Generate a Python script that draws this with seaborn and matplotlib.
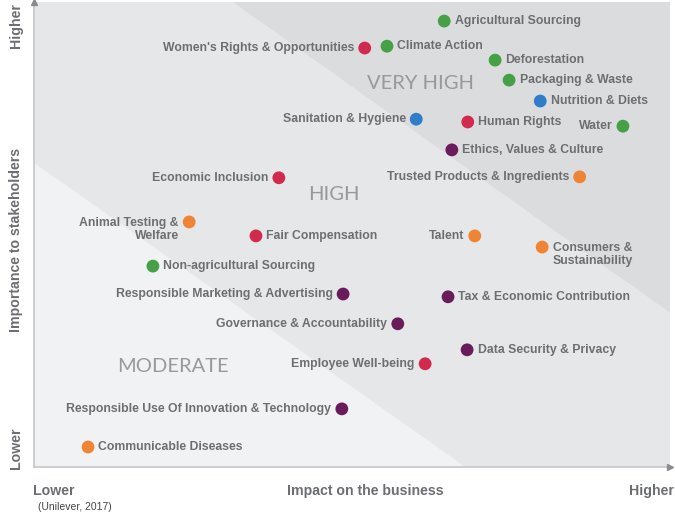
import matplotlib
matplotlib.use("Agg")
import matplotlib.pyplot as plt
import seaborn as sns
import pandas as pd

# ---- data (impact on business: 0-10, importance to stakeholders: 0-10) ----
topics = [
    "Agricultural Sourcing", "Women's Rights & Opportunities", "Climate Action",
    "Deforestation", "Packaging & Waste", "Nutrition & Diets",
    "Sanitation & Hygiene", "Human Rights", "Water", "Ethics, Values & Culture",
    "Economic Inclusion", "Trusted Products & Ingredients",
    "Animal Testing &\nWelfare", "Fair Compensation", "Talent",
    "Consumers &\nSustainability", "Non-agricultural Sourcing",
    "Responsible Marketing & Advertising", "Tax & Economic Contribution",
    "Governance & Accountability", "Data Security & Privacy",
    "Employee Well-being", "Responsible Use Of Innovation & Technology",
    "Communicable Diseases",
]
impact = [6.45, 5.20, 5.55, 7.25, 7.47, 7.96, 6.01, 6.82, 9.26, 6.57,
          3.85, 8.58, 2.44, 3.49, 6.93, 7.99, 1.87, 4.86, 6.51, 5.72,
          6.81, 6.15, 4.84, 0.85]
importance = [9.59, 9.01, 9.05, 8.75, 8.32, 7.87, 7.48, 7.42, 7.33, 6.82,
              6.22, 6.24, 5.27, 4.97, 4.97, 4.73, 4.32, 3.72, 3.66, 3.08,
              2.52, 2.22, 1.25, 0.43]
group = ["green", "red", "green", "green", "green", "blue", "blue", "red",
         "green", "purple", "red", "orange", "orange", "red", "orange",
         "orange", "green", "purple", "purple", "purple", "purple", "red",
         "purple", "orange"]
label_side = ["r", "l", "r", "r", "r", "r", "l", "r", "l", "r", "l", "l",
              "l", "r", "l", "r", "r", "l", "r", "l", "r", "l", "l", "r"]

zone_names = ["VERY HIGH", "HIGH", "MODERATE"]

palette = {"green": "#45a046", "red": "#d12a4c", "blue": "#2f7cc8",
           "orange": "#ee8434", "purple": "#6a1b5c"}

df = pd.DataFrame({"topic": topics, "impact": impact,
                   "importance": importance, "group": group,
                   "side": label_side})

# ---- figure ----
fig = plt.figure(figsize=(6.75, 5.13), dpi=100)
ax = fig.add_axes([34 / 675, (513 - 467) / 513, 636 / 675, 465 / 513])
ax.set_xlim(0, 10)
ax.set_ylim(0, 10)

# background bands
c_mod, c_high, c_vhigh = "#f1f2f3", "#e6e7e8", "#dbdcde"
ax.fill([0, 6.78, 0], [0, 0, 6.54], color=c_mod, lw=0, zorder=0)
ax.fill([0, 6.78, 10, 10, 3.12, 0], [6.54, 0, 0, 3.31, 10, 10],
        color=c_high, lw=0, zorder=0)
ax.fill([3.12, 10, 10], [10, 3.31, 10], color=c_vhigh, lw=0, zorder=0)

sns.scatterplot(data=df, x="impact", y="importance", hue="group",
                palette=palette, s=85, edgecolor="none", legend=False,
                ax=ax, zorder=3, clip_on=False)

txt_color = "#6d6e71"
for _, r in df.iterrows():
    two_line = "\n" in r["topic"]
    dy = -5.6 if two_line else 0
    if r["side"] == "r":
        off, ha = (7.5, dy), "left"
    else:
        off, ha = (-7.5, dy), "right"
    ax.annotate(r["topic"], (r["impact"], r["importance"]), xytext=off,
                textcoords="offset points", ha=ha, va="center",
                multialignment=ha, fontsize=8.8, fontweight="bold",
                color=txt_color, family="Liberation Sans", linespacing=1.12,
                zorder=4)

# zone labels
zone_x = [6.07, 4.72, 2.18]
zone_y = [8.24, 5.87, 2.17]
for name, zx, zy in zip(zone_names, zone_x, zone_y):
    ax.text(zx, zy, name, ha="center", va="center", fontsize=14.5,
            color="#97999c", family="Lato", zorder=2)

# axes look
for s in ["top", "right"]:
    ax.spines[s].set_visible(False)
for s in ["left", "bottom"]:
    ax.spines[s].set_color("#c5c6c8")
    ax.spines[s].set_linewidth(1.2)
ax.set_xticks([])
ax.set_yticks([])
ax.set_xlabel("")
ax.set_ylabel("")
ax.plot([0], [10], marker="^", color="#8a8b8d", ms=5, clip_on=False, zorder=5)
ax.plot([10], [0], marker=">", color="#8a8b8d", ms=5, clip_on=False, zorder=5)

ax_color = "#6d6e71"
fkw = dict(color=ax_color, fontweight="bold", family="Liberation Sans")
fs = 10.2
fig.text(33 / 675, 1 - 491 / 513, "Lower", ha="left", va="center", fontsize=fs, **fkw)
fig.text(365 / 675, 1 - 491 / 513, "Impact on the business", ha="center",
         va="center", fontsize=fs, **fkw)
fig.text(674 / 675, 1 - 491 / 513, "Higher", ha="right", va="center", fontsize=fs, **fkw)
fig.text(16 / 675, 1 - 26 / 513, "Higher", ha="center", va="center",
         rotation=90, fontsize=fs, **fkw)
fig.text(16 / 675, 1 - 240 / 513, "Importance to stakeholders", ha="center",
         va="center", rotation=90, fontsize=fs, **fkw)
fig.text(16 / 675, 1 - 448 / 513, "Lower", ha="center", va="center",
         rotation=90, fontsize=fs, **fkw)
fig.text(38 / 675, 0.5 / 513, "(Unilever, 2017)", ha="left", va="bottom",
         fontsize=7.5, color="#444444", family="Liberation Sans")

fig.savefig("out.png", dpi=100)
